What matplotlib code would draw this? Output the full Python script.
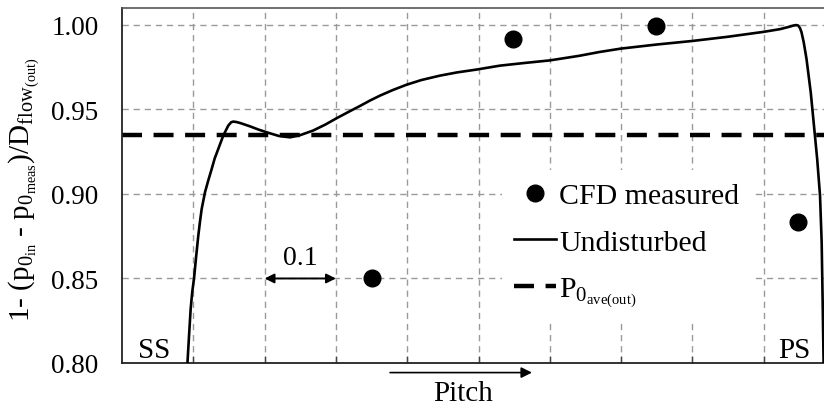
import matplotlib
matplotlib.use("Agg")
import matplotlib.pyplot as plt

plt.rcParams["font.family"] = ["Liberation Serif", "DejaVu Serif"]
plt.rcParams["mathtext.fontset"] = "custom"
plt.rcParams["mathtext.rm"] = "Liberation Serif"
plt.rcParams["mathtext.it"] = "Liberation Serif:italic"
plt.rcParams["mathtext.default"] = "regular"

# Undisturbed total-pressure profile across the pitch (SS -> PS)
undisturbed_x = [0.0918, 0.0940, 0.0963, 0.0985, 0.101, 0.104, 0.107, 0.1095,
                 0.1117, 0.1164, 0.121, 0.1258, 0.130, 0.135, 0.142, 0.149,
                 0.153, 0.156, 0.160, 0.1655, 0.1795, 0.192, 0.205, 0.220,
                 0.2356, 0.250, 0.268, 0.285, 0.301, 0.318, 0.334, 0.348,
                 0.362, 0.380, 0.399, 0.420, 0.446, 0.470, 0.4975, 0.530,
                 0.565, 0.600, 0.641, 0.670, 0.700, 0.750, 0.800, 0.850,
                 0.900, 0.923, 0.935, 0.9415, 0.9455, 0.9485, 0.951, 0.953,
                 0.956, 0.960, 0.966, 0.9705, 0.975, 0.979, 0.9813, 0.9827,
                 0.984]
undisturbed_y = [0.800, 0.816, 0.832, 0.842, 0.850, 0.863, 0.8753, 0.884,
                 0.891, 0.901, 0.908, 0.9148, 0.921, 0.9266, 0.9345, 0.9404,
                 0.9424, 0.9428, 0.9426, 0.942, 0.940, 0.938, 0.9362, 0.9343,
                 0.9335, 0.9348, 0.9375, 0.941, 0.9448, 0.9486, 0.9521, 0.9553,
                 0.9582, 0.9615, 0.9646, 0.9674, 0.970, 0.9719, 0.9736, 0.9759,
                 0.9775, 0.979, 0.9817, 0.984, 0.986, 0.9884, 0.9905, 0.993,
                 0.9959, 0.9975, 0.9988, 0.9996, 0.9999, 0.9996, 0.998, 0.9957,
                 0.990, 0.980, 0.960, 0.9404, 0.9207, 0.899, 0.8714, 0.836,
                 0.800]

# CFD measured points
cfd_x = [0.351, 0.548, 0.749, 0.948]
cfd_y = [0.850, 0.9917, 0.9995, 0.8832]

# Pitch-averaged outlet total pressure
p0_ave_out = 0.935

grid_x = [0.1, 0.2, 0.3, 0.4, 0.5, 0.6, 0.7, 0.8, 0.9]
y_ticks = [0.80, 0.85, 0.90, 0.95, 1.00]
y_tick_labels = ["0.80", "0.85", "0.90", "0.95", "1.00"]

fig = plt.figure(figsize=(8.24, 4.10), dpi=100)
ax = fig.add_axes([122 / 824, 46 / 410, 713 / 824, 355 / 410])

ax.set_xlim(0.0, 1.0)
ax.set_ylim(0.80, 1.01)

# dashed grid
for gx in grid_x:
    ax.axvline(gx, color="#9a9a9a", lw=1.0, ls=(0, (4.5, 3.5)), zorder=0)
for gy in y_ticks[1:]:
    ax.axhline(gy, color="#9a9a9a", lw=1.0, ls=(0, (4.5, 3.5)), zorder=0)

mean_line = ax.axhline(p0_ave_out, color="black", lw=3.2, ls=(0, (4.5, 2.6)),
                       zorder=2, label=r"P$_{0_{\mathrm{ave(out)}}}$")
curve, = ax.plot(undisturbed_x, undisturbed_y, color="black", lw=1.9,
                 zorder=3, label="Undisturbed", solid_joinstyle="round")
pts, = ax.plot(cfd_x, cfd_y, "o", color="black", ms=12, ls="none",
               zorder=4, label="CFD measured")

ax.set_yticks(y_ticks)
ax.set_yticklabels(y_tick_labels)
ax.set_xticks(grid_x)
ax.set_xticklabels([])
ax.tick_params(axis="x", direction="in", length=5, width=1.0, color="#444444")
ax.tick_params(axis="y", length=0, pad=17, labelsize=19.5)

for side in ["left", "bottom"]:
    ax.spines[side].set_linewidth(1.3)
    ax.spines[side].set_color("#222222")
ax.spines["top"].set_linewidth(1.2)
ax.spines["top"].set_color("#555555")
ax.spines["right"].set_visible(False)

ax.set_ylabel(r"1- (p$_{0_{\mathrm{in}}}$ - p$_{0_{\mathrm{meas}}}$)/D$_{\mathrm{flow}_{\mathrm{(out)}}}$",
              fontsize=21)
ax.yaxis.set_label_coords(-0.112, 0.49)

leg = ax.legend(handles=[pts, curve, mean_line], loc="upper left",
                bbox_to_anchor=(0.512, 0.585), frameon=True, fancybox=False,
                facecolor="white", edgecolor="none", framealpha=1.0,
                fontsize=21.5, handlelength=1.4, handletextpad=0.12,
                labelspacing=0.66, borderpad=0.4, numpoints=1)
leg.set_zorder(5)

# scale marker between gridlines
ax.annotate("", xy=(0.2, 0.85), xytext=(0.3, 0.85),
            arrowprops=dict(arrowstyle="<|-|>", color="black", lw=1.4,
                            mutation_scale=14, shrinkA=0, shrinkB=0))
ax.text(0.25, 0.8625, "0.1", ha="center", va="center", fontsize=20)

ax.text(0.022, 0.8035, "SS", ha="left", va="baseline", fontsize=21)
ax.text(0.921, 0.8035, "PS", ha="left", va="baseline", fontsize=21)

# pitch direction arrow below the axis
trans = ax.get_xaxis_transform()
ax.annotate("", xy=(0.575, -0.027), xytext=(0.376, -0.027),
            xycoords=trans, textcoords=trans,
            arrowprops=dict(arrowstyle="-|>", color="black", lw=1.2,
                            mutation_scale=16, shrinkA=0, shrinkB=0),
            annotation_clip=False)
ax.text(0.478, -0.085, "Pitch", transform=trans, ha="center", va="center",
        fontsize=21)

fig.savefig("out.png", dpi=100)
